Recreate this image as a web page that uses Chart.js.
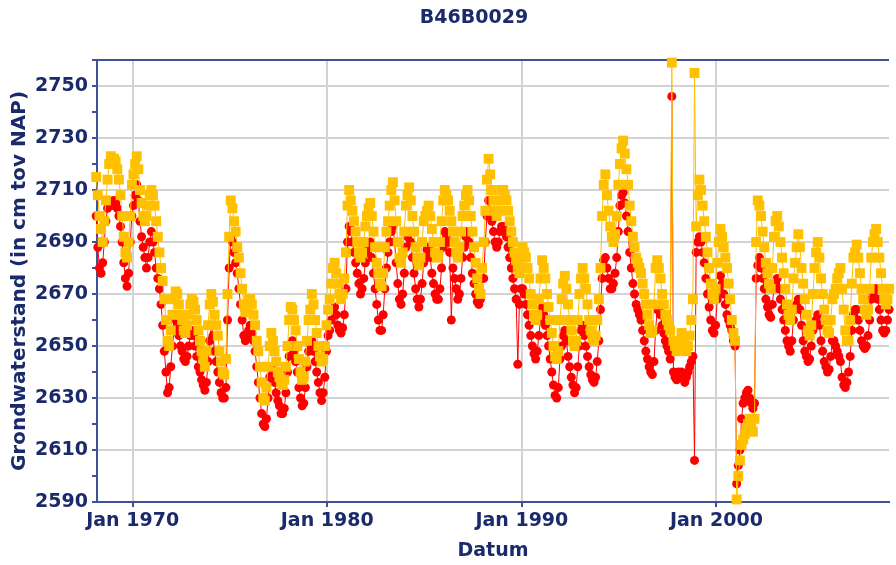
<!DOCTYPE html>
<html>
<head>
<meta charset="utf-8">
<title>B46B0029</title>
<script src="https://cdn.jsdelivr.net/npm/chart.js@4.4.1/dist/chart.umd.min.js"></script>
<style>
  html, body { margin: 0; padding: 0; background: #ffffff; }
  #wrap { width: 896px; height: 565px; }
</style>
</head>
<body>
<div id="wrap"><canvas id="grafiek" width="896" height="565"></canvas></div>
<script>
// Peilbuis B46B0029 – grondwaterstand in cm t.o.v. NAP.
// Eén meting per maand, midden van de maand; per regel één jaar (jan t/m dec).
const meetMaanden = ['jan', 'feb', 'mrt', 'apr', 'mei', 'jun', 'jul', 'aug', 'sep', 'okt', 'nov', 'dec'];

// Filter 2 (geel)
const geel1968 = [
  2714, 2715, 2708, 2700, 2695, 2690, 2698, 2706, 2714, 2720, 2723, 2722,  // 1968
  2722, 2721, 2718, 2714, 2708, 2700, 2692, 2686, 2684, 2690, 2700, 2712,  // 1969
  2716, 2720, 2723, 2718, 2710, 2705, 2700, 2698, 2700, 2704, 2708, 2710,  // 1970
  2708, 2704, 2698, 2692, 2686, 2680, 2675, 2668, 2660, 2652, 2650, 2656,  // 1971
  2662, 2668, 2671, 2670, 2666, 2662, 2660, 2656, 2655, 2658, 2662, 2666,  // 1972
  2668, 2667, 2664, 2660, 2656, 2652, 2648, 2645, 2642, 2648, 2658, 2666,  // 1973
  2670, 2667, 2662, 2658, 2654, 2648, 2644, 2640, 2639, 2645, 2670, 2692,  // 1974
  2706, 2703, 2698, 2694, 2688, 2684, 2678, 2672, 2666, 2663, 2664, 2668,  // 1975
  2668, 2666, 2662, 2658, 2652, 2648, 2642, 2636, 2630, 2629, 2634, 2642,  // 1976
  2650, 2655, 2652, 2648, 2644, 2640, 2638, 2636, 2635, 2637, 2642, 2650,  // 1977
  2660, 2665, 2664, 2660, 2656, 2650, 2645, 2640, 2637, 2638, 2644, 2652,  // 1978
  2660, 2664, 2670, 2666, 2660, 2655, 2650, 2646, 2644, 2645, 2650, 2658   // 1979
];
const geel1980 = [
  2664, 2668, 2674, 2680, 2682, 2678, 2674, 2670, 2668, 2670, 2676, 2686,  // 1980
  2704, 2710, 2706, 2702, 2698, 2694, 2690, 2686, 2684, 2686, 2690, 2696,  // 1981
  2700, 2703, 2705, 2700, 2694, 2688, 2682, 2678, 2674, 2673, 2678, 2688,  // 1982
  2694, 2698, 2704, 2710, 2713, 2706, 2698, 2690, 2684, 2682, 2686, 2694,  // 1983
  2704, 2708, 2711, 2706, 2700, 2694, 2688, 2684, 2681, 2684, 2690, 2698,  // 1984
  2700, 2702, 2704, 2700, 2695, 2690, 2686, 2684, 2685, 2690, 2698, 2706,  // 1985
  2710, 2708, 2706, 2702, 2698, 2694, 2690, 2686, 2684, 2688, 2694, 2700,  // 1986
  2704, 2708, 2710, 2706, 2700, 2694, 2688, 2682, 2676, 2672, 2670, 2680,  // 1987
  2690, 2702, 2714, 2722, 2716, 2710, 2706, 2702, 2700, 2702, 2706, 2710,  // 1988
  2710, 2708, 2706, 2702, 2698, 2694, 2690, 2686, 2683, 2680, 2678, 2684   // 1989
];
const geel1990 = [
  2688, 2686, 2684, 2680, 2676, 2670, 2666, 2662, 2660, 2662, 2668, 2676,  // 1990
  2683, 2680, 2676, 2670, 2665, 2660, 2655, 2650, 2646, 2645, 2648, 2660,  // 1991
  2668, 2674, 2677, 2672, 2666, 2660, 2656, 2652, 2650, 2652, 2660, 2670,  // 1992
  2676, 2680, 2676, 2672, 2666, 2660, 2656, 2653, 2652, 2654, 2660, 2668,  // 1993
  2680, 2700, 2712, 2716, 2708, 2702, 2696, 2692, 2690, 2693, 2700, 2712,  // 1994
  2720, 2726, 2729, 2724, 2718, 2712, 2704, 2698, 2692, 2688, 2684, 2682,  // 1995
  2680, 2678, 2674, 2670, 2666, 2662, 2658, 2655, 2656, 2666, 2680, 2683,  // 1996
  2680, 2676, 2670, 2666, 2662, 2660, 2658, 2656, 2759, 2652, 2650, 2648,  // 1997
  2650, 2652, 2655, 2652, 2650, 2648, 2650, 2654, 2660, 2668, 2755, 2696,  // 1998
  2708, 2714, 2710, 2704, 2698, 2692, 2686, 2680, 2674, 2670, 2668, 2672   // 1999
];
const geel2000 = [
  2682, 2690, 2695, 2692, 2688, 2684, 2680, 2674, 2668, 2660, 2655, 2652,  // 2000
  2591, 2600, 2606, 2612, 2614, 2616, 2618, 2620, 2622, 2619, 2617, 2622,  // 2001
  2690, 2706, 2704, 2700, 2694, 2688, 2682, 2678, 2674, 2672, 2680, 2692,  // 2002
  2698, 2700, 2696, 2690, 2684, 2678, 2672, 2666, 2662, 2660, 2664, 2676,  // 2003
  2682, 2688, 2693, 2688, 2680, 2674, 2668, 2662, 2656, 2654, 2658, 2670,  // 2004
  2680, 2686, 2690, 2684, 2676, 2670, 2664, 2660, 2656, 2655, 2660, 2668,  // 2005
  2670, 2672, 2676, 2678, 2680, 2672, 2664, 2656, 2652, 2652, 2660, 2674,  // 2006
  2684, 2686, 2689, 2684, 2678, 2672, 2668, 2664, 2662, 2664, 2672, 2684,  // 2007
  2690, 2693, 2695, 2690, 2684, 2678, 2672, 2668, 2666, 2668, 2672, 2680   // 2008
];

// Filter 1 (rood)
const rood1968 = [
  2702, 2700, 2688, 2680, 2678, 2682, 2690, 2698, 2703, 2706, 2705, 2704,  // 1968
  2706, 2705, 2703, 2700, 2696, 2690, 2682, 2676, 2673, 2678, 2690, 2700,  // 1969
  2704, 2708, 2712, 2706, 2698, 2692, 2688, 2684, 2680, 2684, 2690, 2694,  // 1970
  2690, 2686, 2680, 2676, 2672, 2666, 2658, 2648, 2640, 2632, 2634, 2642,  // 1971
  2650, 2656, 2660, 2658, 2654, 2650, 2648, 2645, 2644, 2646, 2650, 2654,  // 1972
  2656, 2654, 2650, 2646, 2642, 2640, 2637, 2635, 2633, 2636, 2644, 2652,  // 1973
  2658, 2654, 2648, 2644, 2640, 2636, 2632, 2630, 2630, 2634, 2660, 2680,  // 1974
  2692, 2690, 2686, 2682, 2678, 2672, 2666, 2660, 2654, 2652, 2654, 2656,  // 1975
  2658, 2655, 2652, 2648, 2642, 2636, 2630, 2624, 2620, 2619, 2622, 2630,  // 1976
  2638, 2642, 2640, 2636, 2632, 2629, 2627, 2624, 2624, 2626, 2632, 2640,  // 1977
  2646, 2650, 2652, 2648, 2644, 2640, 2634, 2630, 2627, 2628, 2634, 2642,  // 1978
  2648, 2650, 2652, 2648, 2644, 2640, 2636, 2632, 2629, 2632, 2638, 2648   // 1979
];
const rood1980 = [
  2654, 2656, 2660, 2664, 2665, 2662, 2658, 2656, 2655, 2657, 2662, 2672,  // 1980
  2690, 2696, 2694, 2690, 2686, 2682, 2678, 2674, 2670, 2672, 2676, 2682,  // 1981
  2686, 2688, 2690, 2684, 2678, 2672, 2666, 2660, 2656, 2656, 2662, 2672,  // 1982
  2680, 2686, 2690, 2694, 2696, 2690, 2682, 2674, 2668, 2666, 2670, 2678,  // 1983
  2688, 2692, 2694, 2690, 2684, 2678, 2672, 2668, 2665, 2668, 2674, 2682,  // 1984
  2684, 2687, 2688, 2684, 2678, 2674, 2670, 2668, 2668, 2672, 2680, 2688,  // 1985
  2694, 2692, 2690, 2686, 2660, 2680, 2676, 2672, 2668, 2670, 2676, 2684,  // 1986
  2688, 2692, 2694, 2690, 2684, 2678, 2674, 2670, 2667, 2666, 2668, 2676,  // 1987
  2676, 2690, 2700, 2706, 2702, 2698, 2694, 2690, 2688, 2690, 2694, 2696,  // 1988
  2696, 2694, 2692, 2688, 2684, 2680, 2676, 2672, 2668, 2643, 2666, 2672   // 1989
];
const rood1990 = [
  2672, 2670, 2666, 2662, 2658, 2654, 2650, 2647, 2645, 2648, 2654, 2660,  // 1990
  2665, 2662, 2658, 2654, 2650, 2645, 2640, 2635, 2631, 2630, 2634, 2645,  // 1991
  2650, 2654, 2656, 2652, 2646, 2642, 2638, 2635, 2632, 2634, 2642, 2650,  // 1992
  2656, 2658, 2654, 2650, 2646, 2642, 2639, 2637, 2636, 2638, 2644, 2652,  // 1993
  2664, 2676, 2683, 2684, 2680, 2676, 2672, 2672, 2674, 2678, 2684, 2694,  // 1994
  2704, 2708, 2709, 2705, 2700, 2694, 2686, 2680, 2674, 2670, 2666, 2664,  // 1995
  2662, 2660, 2656, 2652, 2648, 2645, 2642, 2640, 2639, 2644, 2656, 2664,  // 1996
  2664, 2662, 2658, 2655, 2652, 2650, 2648, 2645, 2746, 2640, 2638, 2637,  // 1997
  2640, 2638, 2640, 2638, 2636, 2638, 2640, 2642, 2644, 2646, 2606, 2686,  // 1998
  2690, 2692, 2690, 2686, 2682, 2676, 2670, 2665, 2660, 2656, 2655, 2658   // 1999
];
const rood2000 = [
  2668, 2672, 2677, 2674, 2670, 2666, 2662, 2660, 2658, 2656, 2652, 2650,  // 2000
  2597, 2604, 2610, 2622, 2628, 2630, 2632, 2633, 2630, 2628, 2626, 2628,  // 2001
  2676, 2681, 2684, 2680, 2676, 2672, 2668, 2665, 2662, 2661, 2666, 2672,  // 2002
  2674, 2676, 2672, 2668, 2664, 2660, 2656, 2652, 2650, 2648, 2652, 2660,  // 2003
  2664, 2666, 2668, 2664, 2658, 2652, 2648, 2646, 2644, 2645, 2650, 2656,  // 2004
  2658, 2660, 2662, 2658, 2652, 2648, 2644, 2642, 2640, 2641, 2646, 2652,  // 2005
  2652, 2650, 2648, 2646, 2644, 2638, 2635, 2634, 2636, 2640, 2646, 2656,  // 2006
  2662, 2664, 2664, 2660, 2656, 2652, 2650, 2649, 2650, 2654, 2660, 2668,  // 2007
  2670, 2672, 2672, 2668, 2664, 2660, 2656, 2655, 2656, 2660, 2664, 2668   // 2008
];

// As-labels
const titel = 'B46B0029';
const yTitel = 'Grondwaterstand (in cm tov NAP)';
const xTitel = 'Datum';
const xTickJaren = [1970, 1980, 1990, 2000];
const xTickLabels = ['Jan 1970', 'Jan 1980', 'Jan 1990', 'Jan 2000'];

// Maandreeks omzetten naar punten op de tijdas (decimale jaren, midden van de maand)
function naarPunten(reeks, beginJaar) {
  return reeks.map((w, i) => {
    const jaar = beginJaar + Math.floor(i / meetMaanden.length);
    const maand = i % meetMaanden.length;
    return { x: jaar + (maand + 0.5) / 12, y: w };
  });
}
const geelPunten = [].concat(
  naarPunten(geel1968, 1968), naarPunten(geel1980, 1980),
  naarPunten(geel1990, 1990), naarPunten(geel2000, 2000));
const roodPunten = [].concat(
  naarPunten(rood1968, 1968), naarPunten(rood1980, 1980),
  naarPunten(rood1990, 1990), naarPunten(rood2000, 2000));

const tekstKleur = '#1b2a6b';
const asKleur = '#3e529a';
const rasterKleur = '#d3d3d3';
const lettertype = '"DejaVu Sans", Verdana, sans-serif';

const kopPlugin = {
  id: 'kop',
  afterDraw(chart) {
    const ctx = chart.ctx;
    ctx.save();
    ctx.font = 'bold 19px ' + lettertype;
    ctx.fillStyle = tekstKleur;
    ctx.textAlign = 'center';
    ctx.textBaseline = 'middle';
    ctx.fillText(titel, 474, 18);
    ctx.restore();
  }
};

new Chart(document.getElementById('grafiek'), {
  type: 'line',
  data: {
    datasets: [
      {
        label: 'filter 2',
        data: geelPunten,
        borderColor: '#ffc000',
        backgroundColor: '#ffc000',
        pointBackgroundColor: '#ffc000',
        borderWidth: 1,
        pointStyle: 'rect',
        pointRadius: 7,
        pointBorderWidth: 0,
        tension: 0,
        clip: false
      },
      {
        label: 'filter 1',
        data: roodPunten,
        borderColor: '#ff0000',
        backgroundColor: '#ff0000',
        pointBackgroundColor: '#ff0000',
        borderWidth: 1,
        pointStyle: 'circle',
        pointRadius: 4.5,
        pointBorderWidth: 0,
        tension: 0,
        clip: false
      }
    ]
  },
  options: {
    responsive: false,
    animation: false,
    layout: { padding: { top: 60, right: 0, bottom: 0, left: 0 } },
    plugins: {
      legend: { display: false },
      tooltip: { enabled: false },
      title: { display: false }
    },
    scales: {
      x: {
        type: 'linear',
        min: 1968.166,
        max: 2008.87,
        afterBuildTicks(scale) {
          scale.ticks = xTickJaren.map(v => ({ value: v }));
        },
        afterFit(scale) { scale.height = 63; },
        ticks: {
          autoSkip: false,
          maxRotation: 0,
          padding: 3,
          color: tekstKleur,
          font: { family: lettertype, size: 19, weight: 'bold' },
          callback: (v) => xTickLabels[xTickJaren.indexOf(v)]
        },
        grid: {
          color: rasterKleur,
          lineWidth: 2,
          tickColor: asKleur,
          tickLength: 5,
          tickWidth: 2
        },
        border: { color: asKleur, width: 2 },
        title: {
          display: true,
          text: xTitel,
          color: tekstKleur,
          font: { family: lettertype, size: 19, weight: 'bold' },
          padding: { top: 0, bottom: 3 }
        }
      },
      y: {
        min: 2590,
        max: 2760,
        afterFit(scale) { scale.width = 97; },
        ticks: {
          stepSize: 10,
          autoSkip: false,
          padding: 4,
          color: tekstKleur,
          font: { family: lettertype, size: 19, weight: 'bold' },
          callback: (v) => ((v - 2590) % 20 === 0 ? String(v) : '')
        },
        grid: {
          color: (c) => {
            const v = c.tick ? c.tick.value : null;
            if (v === 2760) return asKleur;
            return v !== null && (v - 2590) % 20 === 0 ? rasterKleur : 'rgba(0,0,0,0)';
          },
          lineWidth: 2,
          tickColor: asKleur,
          tickLength: 5,
          tickWidth: 2
        },
        border: { color: asKleur, width: 2 },
        title: {
          display: true,
          text: yTitel,
          color: tekstKleur,
          font: { family: lettertype, size: 20, weight: 'bold' },
          padding: { top: 8, bottom: 0 }
        }
      }
    }
  },
  plugins: [kopPlugin]
});
</script>
</body>
</html>
